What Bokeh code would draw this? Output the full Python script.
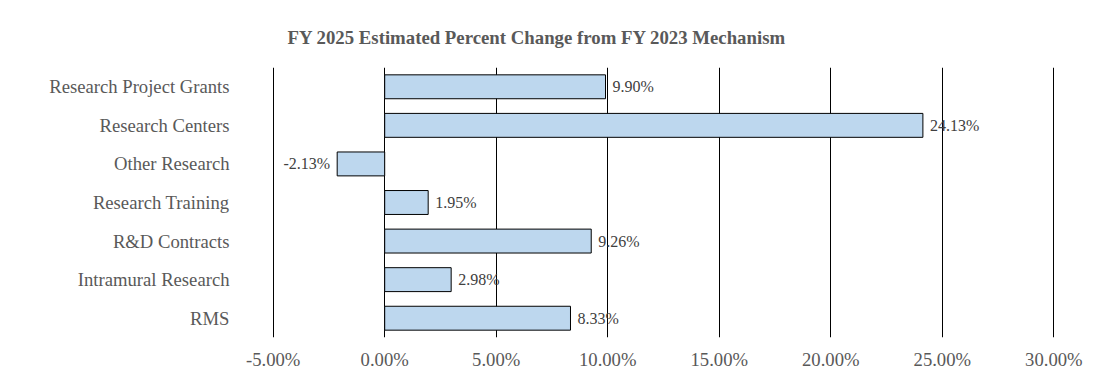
from bokeh.plotting import figure
from bokeh.models import ColumnDataSource, FactorRange, FixedTicker, CustomJSTickFormatter
from bokeh.core.properties import value
from bokeh.embed import file_html
from bokeh.resources import INLINE

categories = ["Research Project Grants", "Research Centers", "Other Research",
              "Research Training", "R&D Contracts", "Intramural Research", "RMS"]
values = [9.90, 24.13, -2.13, 1.95, 9.26, 2.98, 8.33]
x_ticks = [-5, 0, 5, 10, 15, 20, 25, 30]

labels = ["%.2f%%" % v for v in values]
aligns = ["left" if v >= 0 else "right" for v in values]
offsets = [7 if v >= 0 else -7 for v in values]

src = ColumnDataSource(dict(cat=categories, val=values, lab=labels, al=aligns, off=offsets))

FONT = "Liberation Serif"
GREY = "#595959"

p = figure(width=1102, height=372, output_backend="svg", toolbar_location=None,
           y_range=FactorRange(factors=categories[::-1], range_padding=0),
           x_range=(-5.03, 30.03),
           min_border_left=272, min_border_right=48, min_border_top=67, min_border_bottom=33,
           title="FY 2025 Estimated Percent Change from FY 2023 Mechanism")

p.title.text_font = FONT
p.title.text_font_size = "18.8px"
p.title.text_font_style = "bold"
p.title.text_color = GREY
p.title.align = "left"
p.title.offset = 15
p.title.standoff = 40

p.outline_line_color = None
p.background_fill_color = "white"
p.border_fill_color = "white"

p.hbar(y="cat", right="val", left=0, height=0.62, source=src,
       fill_color="#BDD7EE", line_color="black", line_width=1)

p.text(x="val", y="cat", text="lab", source=src, x_offset="off",
       text_align="al", text_baseline="middle",
       text_font=value(FONT), text_font_size="16px", text_color="#404040")

p.xaxis.ticker = FixedTicker(ticks=x_ticks)
p.xaxis.formatter = CustomJSTickFormatter(code="return tick.toFixed(2) + '%';")
p.xaxis.axis_line_color = None
p.xaxis.major_tick_line_color = None
p.xaxis.minor_tick_line_color = None
p.xaxis.major_label_text_font = FONT
p.xaxis.major_label_text_font_size = "18.67px"
p.xaxis.major_label_text_color = GREY
p.xaxis.major_label_standoff = 5

p.yaxis.axis_line_color = None
p.yaxis.major_tick_line_color = None
p.yaxis.minor_tick_line_color = None
p.yaxis.major_label_text_font = FONT
p.yaxis.major_label_text_font_size = "18.67px"
p.yaxis.major_label_text_color = GREY
p.yaxis.major_label_standoff = 37

p.xgrid.ticker = FixedTicker(ticks=x_ticks)
p.xgrid.grid_line_color = "black"
p.xgrid.grid_line_width = 1
p.ygrid.grid_line_color = None

open("out.html", "w").write(file_html(p, INLINE))
